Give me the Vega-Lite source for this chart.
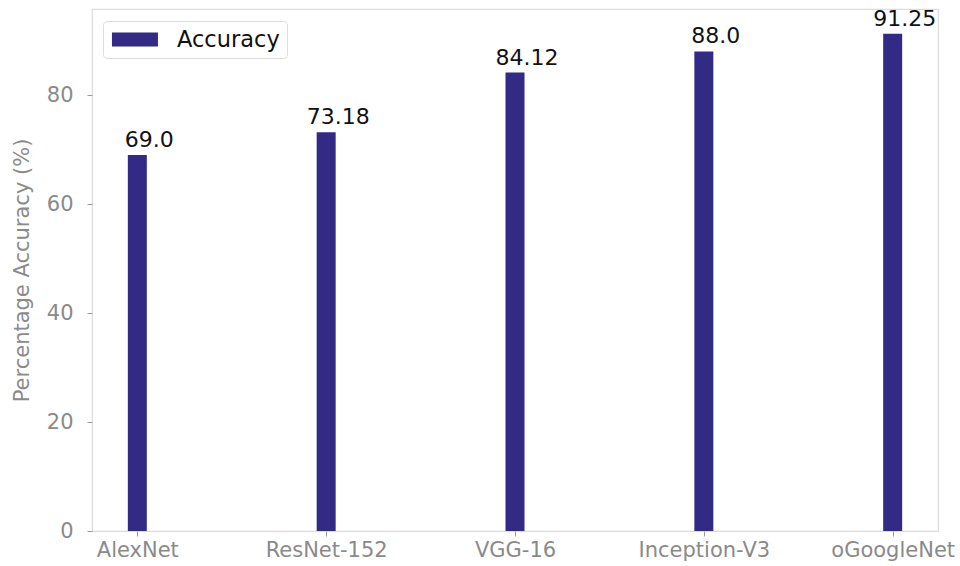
{
  "$schema": "https://vega.github.io/schema/vega-lite/v6.json",
  "autosize": "none",
  "width": 846,
  "height": 522,
  "padding": {"left": 92, "top": 9, "right": 22, "bottom": 35},
  "background": "white",
  "config": {
    "font": "DejaVu Sans",
    "view": {"stroke": "#dcdcdc", "strokeWidth": 1.2},
    "axis": {
      "grid": false,
      "domain": false,
      "tickColor": "#9a9a9a",
      "tickSize": 5,
      "labelColor": "#8a8a8a",
      "labelFontSize": 21,
      "titleColor": "#8a8a8a",
      "titleFontSize": 21,
      "titleFontWeight": "normal"
    }
  },
  "data": {
    "values": [
      {"model": "AlexNet", "accuracy": 69.0, "label": "69.0"},
      {"model": "ResNet-152", "accuracy": 73.18, "label": "73.18"},
      {"model": "VGG-16", "accuracy": 84.12, "label": "84.12"},
      {"model": "Inception-V3", "accuracy": 88.0, "label": "88.0"},
      {"model": "oGoogleNet", "accuracy": 91.25, "label": "91.25"}
    ]
  },
  "encoding": {
    "x": {
      "field": "model",
      "type": "nominal",
      "sort": null,
      "scale": {"type": "point", "padding": 0.24},
      "axis": {"title": null, "labelAngle": 0, "labelPadding": 3}
    },
    "y": {
      "field": "accuracy",
      "type": "quantitative",
      "scale": {"domain": [0, 95.78], "nice": false, "zero": true},
      "axis": {
        "title": "Percentage Accuracy (%)",
        "values": [0, 20, 40, 60, 80],
        "labelPadding": 14,
        "titlePadding": 14
      }
    }
  },
  "layer": [
    {
      "mark": {"type": "bar", "width": 19},
      "encoding": {
        "color": {
          "datum": "Accuracy",
          "type": "nominal",
          "scale": {"range": ["#332a85"]},
          "legend": {
            "title": null,
            "orient": "none",
            "legendX": 11,
            "legendY": 12,
            "symbolType": "M-0.83,-0.6H3.17V0.6H-0.83Z",
            "symbolSize": 529,
            "symbolStrokeWidth": 0,
            "labelFontSize": 22.5,
            "labelColor": "#111111",
            "labelOffset": 44,
            "padding": 7,
            "strokeColor": "#dcdcdc",
            "fillColor": "white",
            "cornerRadius": 4
          }
        }
      }
    },
    {
      "mark": {
        "type": "text",
        "baseline": "alphabetic",
        "align": "center",
        "dx": 12,
        "dy": -8,
        "fontSize": 22,
        "color": "#111111"
      },
      "encoding": {"text": {"field": "label"}}
    }
  ]
}
